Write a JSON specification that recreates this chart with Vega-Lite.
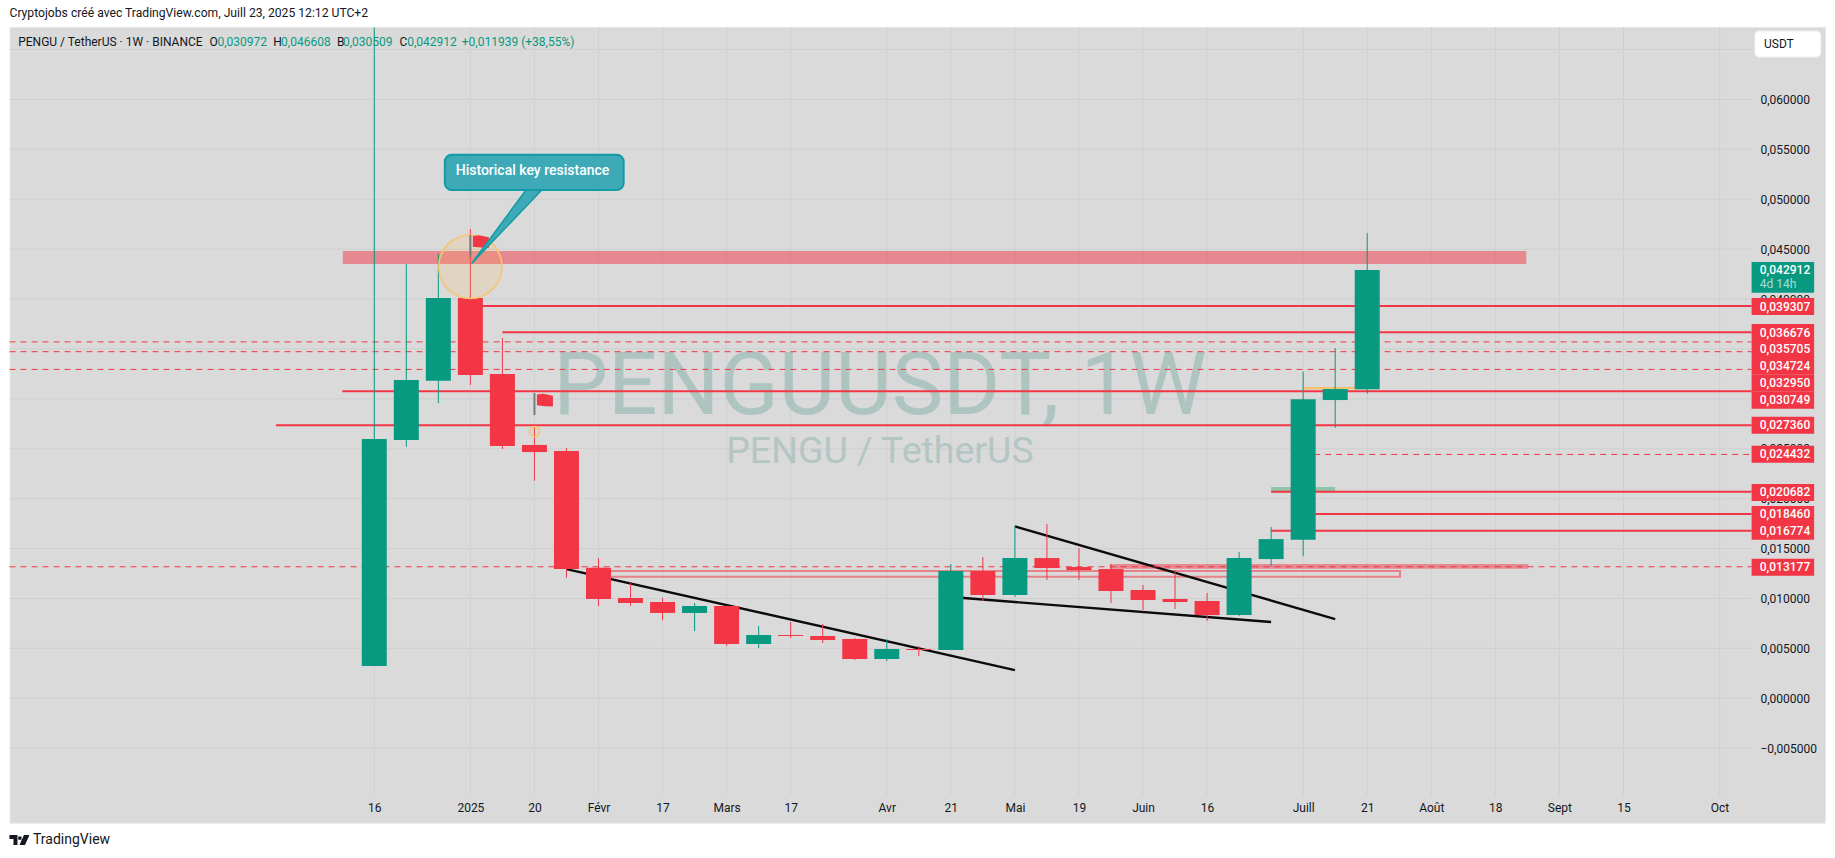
{
  "$schema": "https://vega.github.io/schema/vega-lite/v6.json",
  "autosize": "none",
  "width": 1815.5,
  "height": 795.7,
  "padding": {"left": 9.5, "top": 27, "right": 10, "bottom": 34.8},
  "background": "#ffffff",
  "view": {"fill": "#dadada", "stroke": "#e8e8e8"},
  "config": {"font": "Roboto"},
  "title": {"text": "Cryptojobs créé avec TradingView.com, Juill 23, 2025 12:12 UTC+2", "anchor": "start", "frame": "group", "offset": 7, "fontSize": 12.15, "fontWeight": "normal", "color": "#131722"},
  "datasets": {
    "candles": [
      {"date": "2024-12-16", "open": 0.00324, "high": 0.0672, "low": 0.00324, "close": 0.02597},
      {"date": "2024-12-23", "open": 0.02587, "high": 0.0435, "low": 0.0252, "close": 0.03188},
      {"date": "2024-12-30", "open": 0.03181, "high": 0.04451, "low": 0.02958, "close": 0.0401},
      {"date": "2025-01-06", "open": 0.0401, "high": 0.04701, "low": 0.03138, "close": 0.03239},
      {"date": "2025-01-13", "open": 0.03249, "high": 0.03609, "low": 0.02497, "close": 0.02527},
      {"date": "2025-01-20", "open": 0.02538, "high": 0.0272, "low": 0.0218, "close": 0.02467},
      {"date": "2025-01-27", "open": 0.02477, "high": 0.02507, "low": 0.01208, "close": 0.01295},
      {"date": "2025-02-03", "open": 0.01308, "high": 0.01405, "low": 0.00925, "close": 0.00995},
      {"date": "2025-02-10", "open": 0.01005, "high": 0.01155, "low": 0.00925, "close": 0.00955},
      {"date": "2025-02-17", "open": 0.00965, "high": 0.01005, "low": 0.00784, "close": 0.00855},
      {"date": "2025-02-24", "open": 0.00855, "high": 0.00955, "low": 0.00674, "close": 0.00925},
      {"date": "2025-03-03", "open": 0.00925, "high": 0.0093, "low": 0.00524, "close": 0.00544},
      {"date": "2025-03-10", "open": 0.00544, "high": 0.00724, "low": 0.00504, "close": 0.00634},
      {"date": "2025-03-17", "open": 0.00634, "high": 0.00764, "low": 0.00604, "close": 0.00624},
      {"date": "2025-03-24", "open": 0.00624, "high": 0.00744, "low": 0.00554, "close": 0.00584},
      {"date": "2025-03-31", "open": 0.00594, "high": 0.00604, "low": 0.00384, "close": 0.00394},
      {"date": "2025-04-07", "open": 0.00394, "high": 0.00594, "low": 0.00374, "close": 0.00494},
      {"date": "2025-04-14", "open": 0.00494, "high": 0.00524, "low": 0.00424, "close": 0.00484},
      {"date": "2025-04-21", "open": 0.00484, "high": 0.01345, "low": 0.00484, "close": 0.01275},
      {"date": "2025-04-28", "open": 0.01275, "high": 0.01415, "low": 0.00975, "close": 0.01035},
      {"date": "2025-05-05", "open": 0.01035, "high": 0.01726, "low": 0.01015, "close": 0.01405},
      {"date": "2025-05-12", "open": 0.01405, "high": 0.01746, "low": 0.01185, "close": 0.01305},
      {"date": "2025-05-19", "open": 0.01315, "high": 0.01505, "low": 0.01185, "close": 0.01285},
      {"date": "2025-05-26", "open": 0.01295, "high": 0.01345, "low": 0.00955, "close": 0.01075},
      {"date": "2025-06-02", "open": 0.01085, "high": 0.01135, "low": 0.00885, "close": 0.00985},
      {"date": "2025-06-09", "open": 0.00995, "high": 0.01285, "low": 0.00895, "close": 0.00965},
      {"date": "2025-06-16", "open": 0.00975, "high": 0.01055, "low": 0.00774, "close": 0.00834},
      {"date": "2025-06-23", "open": 0.00834, "high": 0.01465, "low": 0.00824, "close": 0.01405},
      {"date": "2025-06-30", "open": 0.01395, "high": 0.01716, "low": 0.01325, "close": 0.01595},
      {"date": "2025-07-07", "open": 0.01589, "high": 0.03272, "low": 0.01425, "close": 0.02996},
      {"date": "2025-07-14", "open": 0.02988, "high": 0.03509, "low": 0.02708, "close": 0.03098},
      {"date": "2025-07-21", "open": 0.030972, "high": 0.046608, "low": 0.030509, "close": 0.042912}
    ],
    "solid_levels": [
      {"from": "2025-01-06", "level": 0.039307},
      {"from": "2025-01-13", "level": 0.036676},
      {"from": "2024-12-09", "level": 0.030749},
      {"from": "2024-11-24T12:00:00Z", "level": 0.02736},
      {"from": "2025-06-30", "level": 0.020682},
      {"from": "2025-07-07", "level": 0.01846},
      {"from": "2025-06-30", "level": 0.016774}
    ],
    "dashed_levels": [
      {"from": "2024-09-27T07:00:00Z", "level": 0.035705},
      {"from": "2024-09-27T07:00:00Z", "level": 0.034724},
      {"from": "2024-09-27T07:00:00Z", "level": 0.03295},
      {"from": "2025-07-07", "level": 0.024432},
      {"from": "2024-09-27T07:00:00Z", "level": 0.013177}
    ],
    "tags": [
      {"tag": "0,039307", "shown": 0.03925},
      {"tag": "0,036676", "shown": 0.03664},
      {"tag": "0,035705", "shown": 0.03495},
      {"tag": "0,034724", "shown": 0.03326},
      {"tag": "0,032950", "shown": 0.03156},
      {"tag": "0,030749", "shown": 0.02986},
      {"tag": "0,027360", "shown": 0.02735},
      {"tag": "0,024432", "shown": 0.02444},
      {"tag": "0,020682", "shown": 0.02063},
      {"tag": "0,018460", "shown": 0.01842},
      {"tag": "0,016774", "shown": 0.01673},
      {"tag": "0,013177", "shown": 0.01312}
    ],
    "zones": [
      {"start": "2024-12-09T03:00:00Z", "end": "2025-08-24T18:00:00Z", "bottom": 0.0435, "top": 0.0448},
      {"start": "2025-05-25T19:00:00Z", "end": "2025-08-25T05:00:00Z", "bottom": 0.01298, "top": 0.01345}
    ],
    "trendlines": [
      {"id": "a", "date": "2025-01-27", "price": 0.01295},
      {"id": "a", "date": "2025-05-05", "price": 0.00283},
      {"id": "b", "date": "2025-05-05", "price": 0.01723},
      {"id": "b", "date": "2025-07-14", "price": 0.00794},
      {"id": "c", "date": "2025-04-21", "price": 0.01015},
      {"id": "c", "date": "2025-06-30", "price": 0.00764}
    ],
    "ticks": [
      {"date": "2024-12-16"}, {"date": "2025-01-06"}, {"date": "2025-01-20"}, {"date": "2025-02-03"},
      {"date": "2025-02-17"}, {"date": "2025-03-03"}, {"date": "2025-03-17"}, {"date": "2025-04-07"},
      {"date": "2025-04-21"}, {"date": "2025-05-05"}, {"date": "2025-05-19"}, {"date": "2025-06-02"},
      {"date": "2025-06-16"}, {"date": "2025-07-07"}, {"date": "2025-07-21"}, {"date": "2025-08-04"},
      {"date": "2025-08-18"}, {"date": "2025-09-01"}, {"date": "2025-09-15"}, {"date": "2025-10-06"}
    ],
    "legend_dark": [
      {"date": "2024-09-29T04:20:00Z", "text": "PENGU / TetherUS · 1W · BINANCE"},
      {"date": "2024-11-10", "text": "O"},
      {"date": "2024-11-23T22:00:00Z", "text": "H"},
      {"date": "2024-12-07T20:00:00Z", "text": "B"},
      {"date": "2024-12-21T12:00:00Z", "text": "C"}
    ],
    "legend_green": [
      {"date": "2024-11-11T17:30:00Z", "text": "0,030972"},
      {"date": "2024-11-25T15:00:00Z", "text": "0,046608"},
      {"date": "2024-12-09T04:00:00Z", "text": "0,030509"},
      {"date": "2024-12-23T05:00:00Z", "text": "0,042912"},
      {"date": "2025-01-04T03:00:00Z", "text": "+0,011939 (+38,55%)"}
    ]
  },
  "layer": [
    {
      "data": {"values": [{"price": -0.005}, {"price": 0}, {"price": 0.005}, {"price": 0.01}, {"price": 0.015}, {"price": 0.02}, {"price": 0.025}, {"price": 0.03}, {"price": 0.035}, {"price": 0.04}, {"price": 0.045}, {"price": 0.05}, {"price": 0.055}, {"price": 0.06}, {"price": 0.065}]},
      "mark": {"type": "rule", "color": "#cfcfcf", "strokeWidth": 1},
      "encoding": {
        "x": {
          "datum": {"year": 2024, "month": 9, "date": 27, "hours": 7, "utc": true},
          "type": "temporal",
          "scale": {"type": "utc", "domain": ["2024-09-27T06:43:00Z", "2025-10-29T01:00:00Z"], "padding": 0},
          "axis": {
            "title": null, "orient": "bottom", "offset": -27.7, "grid": false, "domain": false, "ticks": false,
            "labelPadding": 7, "labelFontSize": 12, "labelColor": "#131722", "labelOverlap": false, "labelFlush": false,
            "values": [
              {"year": 2024, "month": 12, "date": 16, "utc": true}, {"year": 2025, "month": 1, "date": 6, "utc": true},
              {"year": 2025, "month": 1, "date": 20, "utc": true}, {"year": 2025, "month": 2, "date": 3, "utc": true},
              {"year": 2025, "month": 2, "date": 17, "utc": true}, {"year": 2025, "month": 3, "date": 3, "utc": true},
              {"year": 2025, "month": 3, "date": 17, "utc": true}, {"year": 2025, "month": 4, "date": 7, "utc": true},
              {"year": 2025, "month": 4, "date": 21, "utc": true}, {"year": 2025, "month": 5, "date": 5, "utc": true},
              {"year": 2025, "month": 5, "date": 19, "utc": true}, {"year": 2025, "month": 6, "date": 2, "utc": true},
              {"year": 2025, "month": 6, "date": 16, "utc": true}, {"year": 2025, "month": 7, "date": 7, "utc": true},
              {"year": 2025, "month": 7, "date": 21, "utc": true}, {"year": 2025, "month": 8, "date": 4, "utc": true},
              {"year": 2025, "month": 8, "date": 18, "utc": true}, {"year": 2025, "month": 9, "date": 1, "utc": true},
              {"year": 2025, "month": 9, "date": 15, "utc": true}, {"year": 2025, "month": 10, "date": 6, "utc": true}
            ],
            "labelExpr": "({'12-16':'16','01-06':'2025','01-20':'20','02-03':'Févr','02-17':'17','03-03':'Mars','03-17':'17','04-07':'Avr','04-21':'21','05-05':'Mai','05-19':'19','06-02':'Juin','06-16':'16','07-07':'Juill','07-21':'21','08-04':'Août','08-18':'18','09-01':'Sept','09-15':'15','10-06':'Oct'})[utcFormat(datum.value,'%m-%d')]"
          }
        },
        "x2": {"datum": {"year": 2025, "month": 10, "date": 13, "utc": true}},
        "y": {
          "field": "price",
          "type": "quantitative",
          "scale": {"domain": [-0.01246, 0.06725], "zero": false, "nice": false, "padding": 0},
          "axis": {
            "title": null, "orient": "right", "offset": -73.4, "grid": false, "domain": false, "ticks": false,
            "labelPadding": 8.4, "labelFontSize": 12, "labelColor": "#131722", "labelOverlap": false, "labelFlush": false,
            "values": [-0.005, 0, 0.005, 0.01, 0.015, 0.02, 0.025, 0.03, 0.035, 0.04, 0.045, 0.05, 0.055, 0.06],
            "labelExpr": "replace(format(datum.value,'.6f'),'.',',')"
          }
        }
      }
    },
    {
      "data": {"name": "ticks"},
      "mark": {"type": "rule", "color": "#cfcfcf", "strokeWidth": 1},
      "encoding": {
        "x": {"field": "date", "type": "temporal"},
        "y": {"datum": -0.00967, "type": "quantitative"},
        "y2": {"datum": 0.06725}
      }
    },
    {
      "data": {"values": [{"date": "2025-04-05T12:00:00Z", "price": 0.03113, "text": "PENGUUSDT, 1W"}]},
      "mark": {"type": "text", "fontSize": 87, "color": "#aec4c1", "baseline": "middle", "align": "center"},
      "encoding": {
        "x": {"field": "date", "type": "temporal"},
        "y": {"field": "price", "type": "quantitative"},
        "text": {"field": "text"}
      }
    },
    {
      "data": {"values": [{"date": "2025-04-05T12:00:00Z", "price": 0.02467, "text": "PENGU / TetherUS"}]},
      "mark": {"type": "text", "fontSize": 37.5, "color": "#b4c6c4", "baseline": "middle", "align": "center"},
      "encoding": {
        "x": {"field": "date", "type": "temporal"},
        "y": {"field": "price", "type": "quantitative"},
        "text": {"field": "text"}
      }
    },
    {
      "data": {"name": "zones"},
      "mark": {"type": "rect", "color": "#f23645", "opacity": 0.5},
      "encoding": {
        "x": {"field": "start", "type": "temporal"},
        "x2": {"field": "end"},
        "y": {"field": "bottom", "type": "quantitative"},
        "y2": {"field": "top"}
      }
    },
    {
      "data": {"values": [{"start": "2025-02-03", "end": "2025-07-28T04:00:00Z", "bottom": 0.01218, "top": 0.01275}]},
      "mark": {"type": "rect", "fillOpacity": 0, "stroke": "#f23645", "strokeOpacity": 0.55, "strokeWidth": 2},
      "encoding": {
        "x": {"field": "start", "type": "temporal"},
        "x2": {"field": "end"},
        "y": {"field": "bottom", "type": "quantitative"},
        "y2": {"field": "top"}
      }
    },
    {
      "data": {"values": [{"start": "2025-06-30", "end": "2025-07-14", "bottom": 0.02077, "top": 0.02117}]},
      "mark": {"type": "rect", "color": "#8fc4a8"},
      "encoding": {
        "x": {"field": "start", "type": "temporal"},
        "x2": {"field": "end"},
        "y": {"field": "bottom", "type": "quantitative"},
        "y2": {"field": "top"}
      }
    },
    {
      "data": {"values": [{"start": "2025-07-07", "end": "2025-07-21", "bottom": 0.03095, "top": 0.03118}]},
      "mark": {"type": "rect", "color": "#f5c26b"},
      "encoding": {
        "x": {"field": "start", "type": "temporal"},
        "x2": {"field": "end"},
        "y": {"field": "bottom", "type": "quantitative"},
        "y2": {"field": "top"}
      }
    },
    {
      "data": {"name": "trendlines"},
      "mark": {"type": "line", "color": "#0b0b0b", "strokeWidth": 2.4},
      "encoding": {
        "x": {"field": "date", "type": "temporal"},
        "y": {"field": "price", "type": "quantitative"},
        "detail": {"field": "id"}
      }
    },
    {
      "data": {"name": "dashed_levels"},
      "mark": {"type": "rule", "color": "#f23645", "strokeWidth": 1, "strokeDash": [6, 5]},
      "encoding": {
        "x": {"field": "from", "type": "temporal"},
        "x2": {"datum": {"year": 2025, "month": 10, "date": 13, "utc": true}},
        "y": {"field": "level", "type": "quantitative"}
      }
    },
    {
      "data": {"name": "solid_levels"},
      "mark": {"type": "rule", "color": "#f23645", "strokeWidth": 2},
      "encoding": {
        "x": {"field": "from", "type": "temporal"},
        "x2": {"datum": {"year": 2025, "month": 10, "date": 13, "utc": true}},
        "y": {"field": "level", "type": "quantitative"}
      }
    },
    {
      "data": {"name": "candles"},
      "mark": {"type": "rule", "strokeWidth": 1},
      "encoding": {
        "x": {"field": "date", "type": "temporal"},
        "y": {"field": "low", "type": "quantitative"},
        "y2": {"field": "high"},
        "color": {"condition": {"test": "datum.close >= datum.open", "value": "#089981"}, "value": "#f23645"}
      }
    },
    {
      "data": {"name": "candles"},
      "mark": {"type": "bar", "size": 25},
      "encoding": {
        "x": {"field": "date", "type": "temporal"},
        "y": {"field": "open", "type": "quantitative"},
        "y2": {"field": "close"},
        "color": {"condition": {"test": "datum.close >= datum.open", "value": "#089981"}, "value": "#f23645"}
      }
    },
    {
      "data": {"values": [{"date": "2025-01-06", "price": 0.04323}]},
      "mark": {"type": "circle", "size": 4020, "fill": "#ffb74d", "fillOpacity": 0.16, "stroke": "#f7c56e", "strokeWidth": 1.5, "strokeOpacity": 1},
      "encoding": {
        "x": {"field": "date", "type": "temporal"},
        "y": {"field": "price", "type": "quantitative"}
      }
    },
    {
      "data": {"values": [{"date": "2025-01-20", "price": 0.02671}]},
      "mark": {"type": "circle", "size": 105, "fill": "#ffb74d", "fillOpacity": 0.1, "stroke": "#f7c56e", "strokeWidth": 1.5, "strokeOpacity": 1},
      "encoding": {
        "x": {"field": "date", "type": "temporal"},
        "y": {"field": "price", "type": "quantitative"}
      }
    },
    {
      "data": {"values": [{"date": "2025-01-06", "from": 0.0442, "to": 0.0464}, {"date": "2025-01-20", "from": 0.02838, "to": 0.03058}]},
      "mark": {"type": "rule", "color": "#787b86", "strokeWidth": 2},
      "encoding": {
        "x": {"field": "date", "type": "temporal"},
        "y": {"field": "from", "type": "quantitative"},
        "y2": {"field": "to"}
      }
    },
    {
      "data": {"values": [{"date": "2025-01-08T07:00:00Z", "price": 0.04571}, {"date": "2025-01-22T07:00:00Z", "price": 0.02983}]},
      "mark": {"type": "point", "shape": "M-1,-0.75 L-0.2,-0.85 L1,-0.6 L1,0.75 L0,0.7 L-1,0.6 Z", "size": 256, "filled": true, "color": "#f23645", "opacity": 1},
      "encoding": {
        "x": {"field": "date", "type": "temporal"},
        "y": {"field": "price", "type": "quantitative"}
      }
    },
    {
      "data": {"values": [{"price": 0.05092, "left": "2025-01-18T04:00:00Z", "right": "2025-01-21T14:00:00Z"}, {"price": 0.04357, "left": "2025-01-06T07:00:00Z", "right": "2025-01-06T07:00:00Z"}]},
      "mark": {"type": "area", "orient": "horizontal", "color": "#3eaab7", "stroke": "#129ba6", "strokeWidth": 1.5, "opacity": 1},
      "encoding": {
        "y": {"field": "price", "type": "quantitative"},
        "x": {"field": "left", "type": "temporal"},
        "x2": {"field": "right"}
      }
    },
    {
      "data": {"values": [{"start": "2024-12-31T10:00:00Z", "end": "2025-02-08T12:00:00Z", "bottom": 0.05092, "top": 0.05445}]},
      "mark": {"type": "rect", "fill": "#3eaab7", "stroke": "#129ba6", "strokeWidth": 2, "cornerRadius": 7},
      "encoding": {
        "x": {"field": "start", "type": "temporal"},
        "x2": {"field": "end"},
        "y": {"field": "bottom", "type": "quantitative"},
        "y2": {"field": "top"}
      }
    },
    {
      "data": {"values": [{"date": "2025-01-02T19:00:00Z", "price": 0.05282, "text": "Historical key resistance"}]},
      "mark": {"type": "text", "align": "left", "baseline": "middle", "fontSize": 14, "fontWeight": 500, "color": "#ffffff"},
      "encoding": {
        "x": {"field": "date", "type": "temporal"},
        "y": {"field": "price", "type": "quantitative"},
        "text": {"field": "text"}
      }
    },
    {
      "data": {"name": "tags"},
      "mark": {"type": "bar", "size": 17, "orient": "horizontal", "color": "#f23645"},
      "encoding": {
        "x": {"datum": {"year": 2025, "month": 10, "date": 13, "utc": true}, "type": "temporal"},
        "x2": {"datum": {"year": 2025, "month": 10, "date": 26, "hours": 16, "utc": true}},
        "y": {"field": "shown", "type": "quantitative"}
      }
    },
    {
      "data": {"name": "tags"},
      "mark": {"type": "text", "align": "left", "baseline": "middle", "fontSize": 12, "fontWeight": 500, "color": "#ffffff"},
      "encoding": {
        "x": {"datum": {"year": 2025, "month": 10, "date": 14, "hours": 19, "utc": true}, "type": "temporal"},
        "y": {"field": "shown", "type": "quantitative"},
        "text": {"field": "tag"}
      }
    },
    {
      "data": {"values": [{"bottom": 0.04063, "top": 0.0437}]},
      "mark": {"type": "rect", "color": "#089981"},
      "encoding": {
        "x": {"datum": {"year": 2025, "month": 10, "date": 13, "utc": true}, "type": "temporal"},
        "x2": {"datum": {"year": 2025, "month": 10, "date": 26, "hours": 16, "utc": true}},
        "y": {"field": "bottom", "type": "quantitative"},
        "y2": {"field": "top"}
      }
    },
    {
      "data": {"values": [{"price": 0.0429, "text": "0,042912"}]},
      "mark": {"type": "text", "align": "left", "baseline": "middle", "fontSize": 12, "fontWeight": 500, "color": "#ffffff"},
      "encoding": {
        "x": {"datum": {"year": 2025, "month": 10, "date": 14, "hours": 19, "utc": true}, "type": "temporal"},
        "y": {"field": "price", "type": "quantitative"},
        "text": {"field": "text"}
      }
    },
    {
      "data": {"values": [{"price": 0.04153, "text": "4d 14h"}]},
      "mark": {"type": "text", "align": "left", "baseline": "middle", "fontSize": 12, "color": "#a9dccf"},
      "encoding": {
        "x": {"datum": {"year": 2025, "month": 10, "date": 14, "hours": 19, "utc": true}, "type": "temporal"},
        "y": {"field": "price", "type": "quantitative"},
        "text": {"field": "text"}
      }
    },
    {
      "data": {"values": [{"start": "2025-10-13T17:00:00Z", "end": "2025-10-28T03:00:00Z", "bottom": 0.06424, "top": 0.06685}]},
      "mark": {"type": "rect", "fill": "#ffffff", "stroke": "#eeeeee", "cornerRadius": 4},
      "encoding": {
        "x": {"field": "start", "type": "temporal"},
        "x2": {"field": "end"},
        "y": {"field": "bottom", "type": "quantitative"},
        "y2": {"field": "top"}
      }
    },
    {
      "data": {"values": [{"date": "2025-10-15T17:00:00Z", "price": 0.06551, "text": "USDT"}]},
      "mark": {"type": "text", "align": "left", "baseline": "middle", "fontSize": 12, "color": "#131722"},
      "encoding": {
        "x": {"field": "date", "type": "temporal"},
        "y": {"field": "price", "type": "quantitative"},
        "text": {"field": "text"}
      }
    },
    {
      "data": {"name": "legend_dark"},
      "mark": {"type": "text", "align": "left", "baseline": "middle", "fontSize": 12, "color": "#131722"},
      "encoding": {
        "x": {"field": "date", "type": "temporal"},
        "y": {"datum": 0.06577, "type": "quantitative"},
        "text": {"field": "text"}
      }
    },
    {
      "data": {"name": "legend_green"},
      "mark": {"type": "text", "align": "left", "baseline": "middle", "fontSize": 12, "color": "#089981"},
      "encoding": {
        "x": {"field": "date", "type": "temporal"},
        "y": {"datum": 0.06577, "type": "quantitative"},
        "text": {"field": "text"}
      }
    },
    {
      "data": {"values": [{"date": "2024-10-02T10:00:00Z", "price": -0.01419, "text": "TradingView"}]},
      "mark": {"type": "text", "align": "left", "baseline": "middle", "fontSize": 14, "color": "#131722"},
      "encoding": {
        "x": {"field": "date", "type": "temporal"},
        "y": {"field": "price", "type": "quantitative"},
        "text": {"field": "text"}
      }
    },
    {
      "data": {"values": [{"date": "2024-09-29T11:00:00Z", "price": -0.01419}]},
      "mark": {"type": "point", "shape": "M-1,-0.5 L-0.2,-0.5 L-0.2,0.5 L-0.6,0.5 L-0.6,-0.1 L-1,-0.1 Z M-0.12,-0.35 L0.2,-0.35 L0.2,-0.03 L-0.12,-0.03 Z M0.45,-0.5 L1,-0.5 L0.55,0.5 L0,0.5 Z", "size": 400, "filled": true, "color": "#131722", "opacity": 1},
      "encoding": {
        "x": {"field": "date", "type": "temporal"},
        "y": {"field": "price", "type": "quantitative"}
      }
    }
  ]
}
